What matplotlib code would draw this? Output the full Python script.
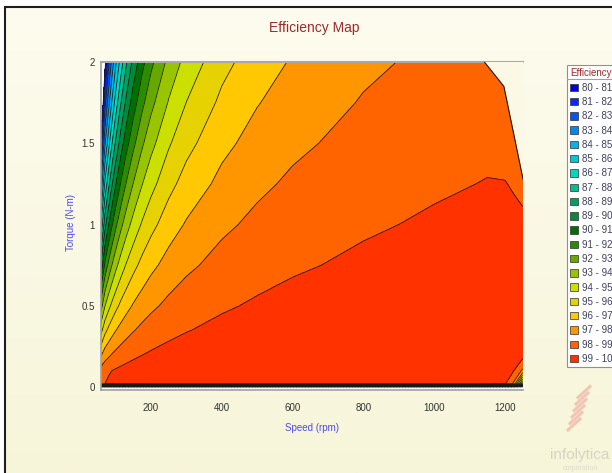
import numpy as np
import matplotlib
matplotlib.use("Agg")
import matplotlib.pyplot as plt
from matplotlib.patches import Patch, Rectangle
from matplotlib.lines import Line2D
from matplotlib.colors import LinearSegmentedColormap

plt.rcParams['font.family'] = ['Liberation Sans', 'DejaVu Sans']

# ---------------- data ----------------
speed = [55, 60, 70, 80, 90, 100, 115, 130, 150, 175, 200, 250, 300, 400,
         500, 600, 800, 1000, 1150, 1200, 1225, 1250]
torque = [0.0, 0.02, 0.1, 0.2, 0.35, 0.5, 0.75, 1.0, 1.25, 1.5, 1.75, 2.0]

# efficiency (%) along each torque row, one value per speed above
eff_t000 = [79.0] * 22
eff_t002 = [98.6, 98.8, 99.0, 99.15, 99.3, 99.4, 99.5, 99.55, 99.6, 99.65, 99.7, 99.7,
            99.7, 99.75, 99.75, 99.75, 99.75, 99.75, 99.7, 99.1, 97.8, 92.0]
eff_t010 = [98.21, 98.44, 98.73, 98.89, 99.01, 99.11, 99.22, 99.31, 99.40, 99.49, 99.55, 99.64,
            99.70, 99.78, 99.82, 99.85, 99.89, 99.91, 99.92, 99.8, 99.0, 97.8]
eff_t020 = [96.49, 96.93, 97.49, 97.80, 98.04, 98.23, 98.46, 98.63, 98.81, 98.98, 99.11, 99.29,
            99.40, 99.55, 99.64, 99.70, 99.78, 99.82, 99.84, 99.8, 99.6, 99.4]
eff_t035 = [94.02, 94.75, 95.69, 96.21, 96.62, 96.95, 97.33, 97.63, 97.94, 98.23, 98.45, 98.76,
            98.96, 99.22, 99.37, 99.48, 99.61, 99.69, 99.73, 99.7, 99.6, 99.5]
eff_t050 = [91.67, 92.66, 93.96, 94.67, 95.24, 95.69, 96.23, 96.65, 97.09, 97.49, 97.80, 98.23,
            98.52, 98.89, 99.11, 99.26, 99.44, 99.55, 99.61, 99.63, 99.55, 99.45]
eff_t075 = [88.00, 89.39, 91.21, 92.22, 93.02, 93.68, 94.46, 95.06, 95.69, 96.29, 96.74, 97.37,
            97.80, 98.34, 98.67, 98.89, 99.16, 99.33, 99.42, 99.44, 99.35, 99.30]
eff_t100 = [84.62, 86.33, 88.61, 89.89, 90.91, 91.74, 92.74, 93.53, 94.34, 95.11, 95.69, 96.53,
            97.09, 97.80, 98.23, 98.52, 98.89, 99.11, 99.22, 99.26, 99.15, 99.12]
eff_t125 = [81.48, 83.48, 86.15, 87.67, 88.89, 89.89, 91.09, 92.04, 93.02, 93.96, 94.67, 95.69,
            96.39, 97.26, 97.80, 98.16, 98.61, 98.89, 99.03, 99.02, 98.95, 98.85]
eff_t150 = [78.57, 80.81, 83.83, 85.56, 86.96, 88.11, 89.49, 90.59, 91.74, 92.84, 93.68, 94.88,
            95.69, 96.74, 97.37, 97.80, 98.34, 98.67, 98.84, 98.80, 98.75, 98.65]
eff_t175 = [75.86, 78.30, 81.63, 83.55, 85.11, 86.39, 87.95, 89.19, 90.50, 91.74, 92.70, 94.07,
            95.01, 96.21, 96.95, 97.44, 98.07, 98.45, 98.65, 98.70, 98.60, 98.50]
eff_t200 = [73.33, 75.95, 79.55, 81.63, 83.33, 84.75, 86.47, 87.84, 89.29, 90.67, 91.74, 93.28,
            94.34, 95.69, 96.53, 97.09, 97.80, 98.23, 98.46, 98.52, 98.45, 98.35]

# maximum-torque envelope (no data above it)
env_speed = [1142, 1197, 1251]
env_torque = [2.0, 1.85, 1.28]

levels = list(range(80, 101))
band_labels = ['80 - 81', '81 - 82', '82 - 83', '83 - 84', '84 - 85', '85 - 86', '86 - 87',
               '87 - 88', '88 - 89', '89 - 90', '90 - 91', '91 - 92', '92 - 93', '93 - 94',
               '94 - 95', '95 - 96', '96 - 97', '97 - 98', '98 - 99', '99 - 100']
band_colors = ['#0000E6', '#0A28FF', '#0055FF', '#0088F0', '#00B4F0', '#00C8D8', '#00D8C0',
               '#00C090', '#00A060', '#008A3A', '#007000', '#2A8C00', '#66A800', '#99C400',
               '#CCE000', '#E6D200', '#FFC800', '#FF9600', '#FF6400', '#FF3200']

# ---------------- figure ----------------
W, H = 612, 473
fig = plt.figure(figsize=(W / 100, H / 100), dpi=100)
fig.patch.set_facecolor('white')

bg = fig.add_axes([5 / W, 0, 1 - 5 / W, 1 - 7 / H], zorder=-10)
bg.axis('off')
bgcm = LinearSegmentedColormap.from_list('bg', ['#FDFCEE', '#F7F5D9'])
bg.imshow(np.linspace(0, 1, 256).reshape(-1, 1), aspect='auto', cmap=bgcm,
          extent=[0, 1, 0, 1])
bg.set_xlim(0, 1)
bg.set_ylim(0, 1)
fig.add_artist(Rectangle((5 / W, -0.01), 1.0, 1 - 7 / H + 0.01, transform=fig.transFigure,
                         fill=False, edgecolor='#1E1E1E', linewidth=1.5))

ax = fig.add_axes([101 / W, 83 / H, 422 / W, 328 / H])
ax.set_facecolor('#FDFDF7')

eff = np.array([eff_t000, eff_t002, eff_t010, eff_t020, eff_t035, eff_t050, eff_t075,
                eff_t100, eff_t125, eff_t150, eff_t175, eff_t200])
ax.contourf(speed, torque, eff, levels=levels, colors=band_colors, zorder=1)
ax.contour(speed, torque, eff, levels=levels[:-1], colors='#1A1A1A', linewidths=0.55, zorder=2)

ax.fill_between(env_speed, env_torque, 2.1, color='#FBF9E6', zorder=3, linewidth=0)
ax.plot(env_speed, env_torque, color='#1A1A1A', lw=0.8, zorder=4)

ax.set_xlim(59, 1251)
ax.set_ylim(-0.018, 2.0)
ax.set_xticks([200, 400, 600, 800, 1000, 1200])
ax.set_yticks([0, 0.5, 1, 1.5, 2])
ax.set_yticklabels(['0', '0.5', '1', '1.5', '2'])
ax.grid(True, color='#B8B8B8', ls=':', lw=0.8)
ax.set_axisbelow(True)
ax.tick_params(axis='both', length=0, labelsize=7, colors='#333333')
ax.tick_params(axis='x', pad=9)
ax.tick_params(axis='y', pad=4.5)
for s in ['left', 'bottom']:
    ax.spines[s].set_color('#A0A0A0')
    ax.spines[s].set_linewidth(1.2)
ax.spines['top'].set_color('#A8A8A8')
ax.spines['top'].set_linewidth(1.5)
ax.spines['right'].set_visible(False)

fig.text(314 / W, 1 - 28 / H, 'Efficiency Map', ha='center', va='center',
         color='#9E2A2B', fontsize=10)
fig.text(312 / W, 1 - 428 / H, 'Speed (rpm)', ha='center', va='center',
         color='#4B4BF0', fontsize=7)
fig.text(71 / W, 1 - 222 / H, 'Torque (N-m)', ha='center', va='center', rotation=90,
         color='#4B4BF0', fontsize=7)

handles = [Patch(facecolor=c, edgecolor='#303030', linewidth=0.5) for c in band_colors]
leg = fig.legend(handles, band_labels, loc='upper left',
                 bbox_to_anchor=(567 / W, 1 - 65 / H), bbox_transform=fig.transFigure,
                 frameon=True, fancybox=False, edgecolor='#909090', facecolor='#FFFFFF',
                 framealpha=1, fontsize=7, title='Efficiency', title_fontsize=7,
                 handlelength=0.8, handleheight=0.8, handletextpad=0.4, labelspacing=0.44,
                 borderpad=0.35, borderaxespad=0, alignment='left')
leg.get_title().set_color('#A02828')
for t in leg.get_texts():
    t.set_color('#404060')
leg.get_frame().set_linewidth(0.8)
fig.add_artist(Line2D([567 / W, 1.0], [1 - 79 / H, 1 - 79 / H], transform=fig.transFigure,
                      color='#A0A0A0', lw=0.8, zorder=10))

# watermark
for i in range(6):
    x0, y0 = 568 + i * 2, 430 - i * 6.5
    fig.add_artist(Line2D([x0 / W, (x0 + 12) / W], [1 - y0 / H, 1 - (y0 - 11) / H],
                          transform=fig.transFigure, color='#F2C6B6', lw=2.2))
fig.text(580 / W, 1 - 455 / H, 'infolytica', ha='center', va='center', color='#D6D4C4',
         fontsize=11)
fig.text(580 / W, 1 - 468 / H, 'corporation', ha='center', va='center', color='#DCDACB',
         fontsize=5)

fig.savefig('out.png', dpi=100)
